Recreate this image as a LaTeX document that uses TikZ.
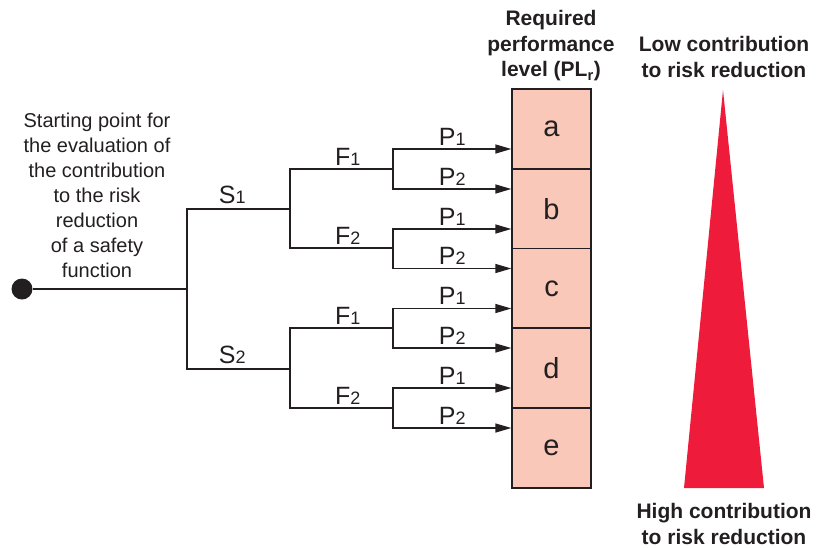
\documentclass[tikz,border=0pt]{standalone}
\usepackage{fontspec}
\setmainfont{Liberation Sans}
\usetikzlibrary{arrows.meta}

\definecolor{plfill}{HTML}{F9C8B8}
\definecolor{riskred}{HTML}{EE1B3B}
\definecolor{ink}{HTML}{231F20}

\newcommand{\idx}[1]{{\fontsize{18}{18}\selectfont #1}}

\tikzset{
  arr/.style={-{Triangle[length=16pt,width=9pt]}},
  plbox/.style={draw=ink, fill=plfill, minimum width=79pt, minimum height=80pt,
    inner sep=0pt, font=\fontsize{29}{29}\selectfont},
  headline/.style={align=center, font=\fontsize{21}{25.5}\selectfont\bfseries},
  branchlbl/.style={above=0pt, inner sep=3pt, font=\fontsize{25}{25}\selectfont},
}

\begin{document}
\begin{tikzpicture}[x=1pt, y=-1pt, line width=1.3pt, draw=ink,
  every node/.style={text=ink, font=\fontsize{21}{25}\selectfont}]
\useasboundingbox (0,0) rectangle (832,547);

% we draw the column of performance levels
\node[plbox] (a) at (551.5,129) {a};
\node[plbox] (b) at (551.5,209) {b};
\node[plbox] (c) at (551.5,288.5) {c};
\node[plbox] (d) at (551.5,368) {d};
\node[plbox] (e) at (551.5,448) {e};
\node[headline] (plr) at (551,46) {Required\\performance\\level (PL\textsubscript{r})};

% starting point
\node[circle, fill=ink, minimum size=21pt, inner sep=0pt] (start) at (22,289) {};
\node[align=center, font=\fontsize{20}{25}\selectfont] (startlbl) at (97,195) {Starting point for\\the evaluation of\\the contribution\\to the risk\\reduction\\of a safety\\function};

% branching points
\coordinate (root) at (187,289);
\coordinate (sa) at (290,209);
\coordinate (sb) at (290,369);
\coordinate (f11) at (393,169);
\coordinate (f12) at (393,248);
\coordinate (f21) at (393,328);
\coordinate (f22) at (393,408);

\draw (start) -- (root);
\draw (root) |- (sa) node[pos=0.72, branchlbl, inner sep=5pt] {S\idx{1}};
\draw (root) |- (sb) node[pos=0.72, branchlbl, inner sep=5pt] {S\idx{2}};

\draw (sa) |- (f11) node[pos=0.78, branchlbl] {F\idx{1}};
\draw (sa) |- (f12) node[pos=0.78, branchlbl] {F\idx{2}};
\draw (sb) |- (f21) node[pos=0.78, branchlbl] {F\idx{1}};
\draw (sb) |- (f22) node[pos=0.78, branchlbl] {F\idx{2}};

% we add the arrows to the levels
\draw[arr] (f11) |- ([yshift=-20pt]a.west) node[pos=0.75, branchlbl] {P\idx{1}};
\draw[arr] (f11) |- ([yshift=20pt]b.west) node[pos=0.75, branchlbl] {P\idx{2}};
\draw[arr] (f12) |- ([yshift=-20pt]b.west) node[pos=0.75, branchlbl] {P\idx{1}};
\draw[arr] (f12) |- ([yshift=20pt]c.west) node[pos=0.75, branchlbl] {P\idx{2}};
\draw[arr] (f21) |- ([yshift=-20pt]c.west) node[pos=0.75, branchlbl] {P\idx{1}};
\draw[arr] (f21) |- ([yshift=20pt]d.west) node[pos=0.75, branchlbl] {P\idx{2}};
\draw[arr] (f22) |- ([yshift=-20pt]d.west) node[pos=0.75, branchlbl] {P\idx{1}};
\draw[arr] (f22) |- ([yshift=20pt]e.west) node[pos=0.75, branchlbl] {P\idx{2}};

% we draw the wedge for the contribution
\fill[riskred] (723,90) -- (764,488) -- (684,488) -- cycle;
\node[headline] (low) at (724,57) {Low contribution\\to risk reduction};
\node[headline] (high) at (724,524) {High contribution\\to risk reduction};

\end{tikzpicture}
\end{document}
